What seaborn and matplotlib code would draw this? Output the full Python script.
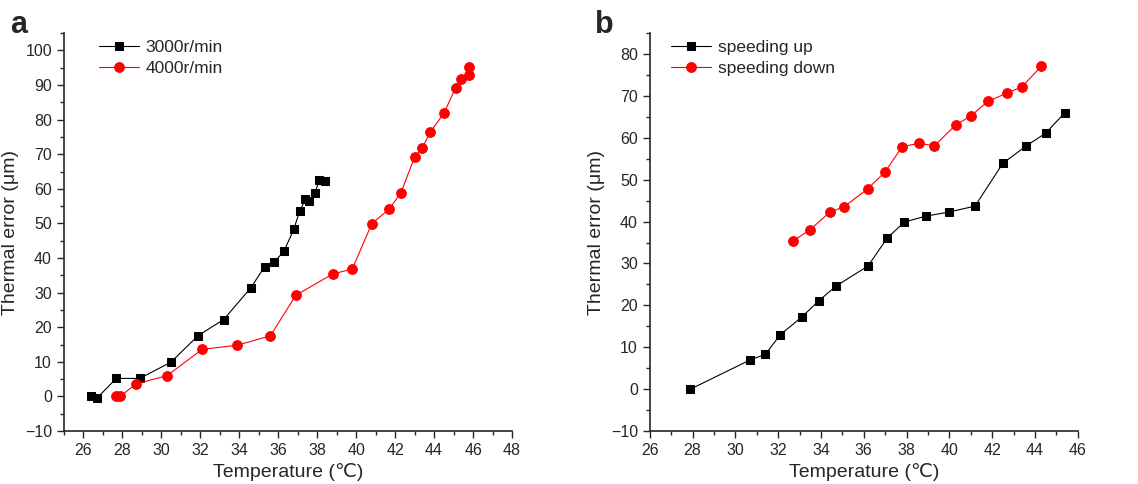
import matplotlib
matplotlib.use("Agg")
import matplotlib.pyplot as plt
import seaborn as sns
import pandas as pd
from matplotlib.ticker import MultipleLocator

# panel a: two spindle speeds
temp_3000 = [26.4, 26.7, 27.7, 28.9, 30.5, 31.9, 33.2, 34.6, 35.3, 35.8, 36.3,
             36.8, 37.1, 37.4, 37.6, 37.9, 38.1, 38.4]
err_3000 = [0.0, -0.5, 5.2, 5.2, 9.9, 17.6, 22.2, 31.4, 37.5, 38.8, 42.0,
            48.3, 53.5, 57.0, 56.4, 58.9, 62.5, 62.3]
temp_4000 = [27.7, 27.9, 28.7, 30.3, 32.1, 33.9, 35.6, 36.9, 38.8, 39.8, 40.8,
             41.7, 42.3, 43.0, 43.4, 43.8, 44.5, 45.1, 45.4, 45.8, 45.8]
err_4000 = [0.0, 0.0, 3.6, 6.0, 13.6, 14.8, 17.5, 29.2, 35.4, 36.8, 49.9,
            54.2, 58.9, 69.2, 71.9, 76.4, 81.8, 89.2, 91.8, 92.9, 95.1]

# panel b: speeding up / down
temp_up = [27.9, 30.7, 31.4, 32.1, 33.1, 33.9, 34.7, 36.2, 37.1, 37.9, 38.9,
           40.0, 41.2, 42.5, 43.6, 44.5, 45.4]
err_up = [0.0, 7.0, 8.3, 13.0, 17.2, 21.1, 24.6, 29.4, 36.1, 39.9, 41.3,
          42.3, 43.7, 53.9, 58.1, 61.1, 66.0]
temp_down = [32.7, 33.5, 34.4, 35.1, 36.2, 37.0, 37.8, 38.6, 39.3, 40.3, 41.0,
             41.8, 42.7, 43.4, 44.3]
err_down = [35.4, 38.1, 42.2, 43.6, 47.9, 51.9, 57.9, 58.7, 58.1, 63.1, 65.2,
            68.7, 70.7, 72.2, 77.1]

sns.set_style("ticks")
plt.rcParams["font.family"] = ["Liberation Sans", "DejaVu Sans"]
plt.rcParams["xtick.labelsize"] = 11.5
plt.rcParams["ytick.labelsize"] = 11.5

fig = plt.figure(figsize=(11.38, 4.84), dpi=100)
ax_a = fig.add_axes([0.056, 0.1095, 0.394, 0.822])
ax_b = fig.add_axes([0.571, 0.1095, 0.376, 0.822])


def draw(ax, x, y, label, color, marker, ms):
    df = pd.DataFrame({"x": x, "y": y})
    sns.lineplot(data=df, x="x", y="y", ax=ax, estimator=None, sort=False,
                 color=color, lw=0.8, marker=marker, markersize=ms,
                 markeredgecolor=color, label=label)


draw(ax_a, temp_3000, err_3000, "3000r/min", "black", "s", 6)
draw(ax_a, temp_4000, err_4000, "4000r/min", "red", "o", 7)
draw(ax_b, temp_up, err_up, "speeding up", "black", "s", 6)
draw(ax_b, temp_down, err_down, "speeding down", "red", "o", 7)

setups = [(ax_a, (25, 48), (-10, 105), "a", -0.12, 0.055),
          (ax_b, (26, 46), (-10, 85), "b", -0.128, 0.025)]
for ax, xl, yl, letter, lx, legx in setups:
    ax.set_xlim(*xl)
    ax.set_ylim(*yl)
    ax.xaxis.set_major_locator(MultipleLocator(2))
    ax.xaxis.set_minor_locator(MultipleLocator(1))
    ax.yaxis.set_major_locator(MultipleLocator(10))
    ax.yaxis.set_minor_locator(MultipleLocator(5))
    ax.tick_params(which="major", length=5, width=1, direction="out")
    ax.tick_params(which="minor", length=3, width=1, direction="out")
    sns.despine(ax=ax)
    for s in ["left", "bottom"]:
        ax.spines[s].set_linewidth(1.2)
    ax.set_xlabel("Temperature (℃)", fontsize=14, labelpad=4)
    ax.set_ylabel("Thermal error (μm)", fontsize=14, labelpad=4)
    ax.text(lx, 1.0, letter, transform=ax.transAxes, fontsize=22,
            fontweight="bold", va="baseline", ha="left")
    ax.legend(loc="upper left", frameon=False, fontsize=12.5,
              handlelength=2.3, handletextpad=0.4, borderaxespad=0.2,
              labelspacing=0.35, bbox_to_anchor=(legx, 1.01))

fig.savefig("out.png", dpi=100)
plt.close(fig)
